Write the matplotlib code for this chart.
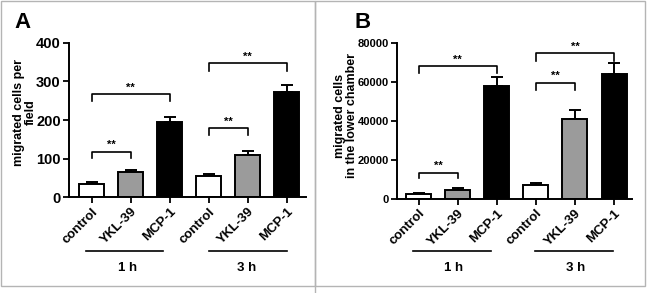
import matplotlib
matplotlib.use("Agg")
import matplotlib.pyplot as plt
import matplotlib.transforms as mtransforms
from matplotlib.patches import Rectangle
from matplotlib.lines import Line2D

plt.rcParams['font.family'] = ['Liberation Sans', 'DejaVu Sans']
plt.rcParams['font.weight'] = 'bold'

categories = ['control', 'YKL-39', 'MCP-1', 'control', 'YKL-39', 'MCP-1']
groups = ['1 h', '3 h']
bar_colors = ['white', '#9b9b9b', 'black', 'white', '#9b9b9b', 'black']

# panel A: migrated cells per field
a_values = [35, 65, 194, 55, 110, 272]
a_err = [4, 6, 15, 6, 10, 18]
a_pairs = [(0, 2), (0, 1), (3, 5), (3, 4)]
a_bracket_top = [267, 118, 347, 179]
a_bracket_end = [249, 102, 327, 161]

# panel B: migrated cells in the lower chamber
b_values = [2400, 4700, 58000, 7000, 41000, 64000]
b_err = [500, 800, 4400, 1200, 4500, 5400]
b_pairs = [(0, 2), (0, 1), (3, 5), (3, 4)]
b_bracket_top = [68100, 13500, 74600, 59500]
b_bracket_end = [64300, 10600, 70800, 55800]

W, H = 647, 293
fig = plt.figure(figsize=(W / 100, H / 100), dpi=100)


def panel(rect, values, err, pairs, btop, bend, ymax, yticks, ytick_size,
          ylabel, label_xy, letter, letter_xy, xlim, group_spans,
          group_centers):
    ax = fig.add_axes(rect)
    x = list(range(len(values)))
    ax.bar(x, values, width=0.64, color=bar_colors, edgecolor='black',
           linewidth=1.4, zorder=2)
    ax.errorbar(x, values, yerr=[[0] * len(err), err], fmt='none',
                ecolor='black', elinewidth=1.4, capsize=4, capthick=1.4,
                zorder=1)
    ax.set_xlim(*xlim)
    ax.set_ylim(0, ymax)
    ax.set_yticks(yticks)
    ax.set_xticks(x)
    ax.set_xticklabels(categories, rotation=45, ha='right',
                       rotation_mode='anchor', fontsize=9.5, fontweight='bold')
    for t in ax.get_yticklabels():
        t.set_fontsize(ytick_size)
        t.set_fontweight('bold')
    ax.tick_params(direction='out', length=4, width=1.3, pad=2)
    for s in ['top', 'right']:
        ax.spines[s].set_visible(False)
    for s in ['left', 'bottom']:
        ax.spines[s].set_linewidth(1.4)

    for (i, j), top, end in zip(pairs, btop, bend):
        ax.plot([i, i, j, j], [end, top, top, end], color='black',
                linewidth=1.2, clip_on=False)
        ax.annotate('**', xy=((i + j) / 2, top), xytext=(0, 2.5),
                    textcoords='offset points', ha='center', va='baseline',
                    fontsize=8, fontweight='bold')

    trans = mtransforms.blended_transform_factory(ax.transData, fig.transFigure)
    for (x0, x1), xc, g in zip(group_spans, group_centers, groups):
        fig.add_artist(Line2D([x0, x1], [1 - 251 / H, 1 - 251 / H],
                              transform=trans, color='black', linewidth=1.2))
        fig.text(xc, 1 - 268 / H, g, transform=trans, ha='center',
                 va='center', fontsize=9.5, fontweight='bold')

    fig.text(label_xy[0] / W, 1 - label_xy[1] / H, ylabel, rotation=90,
             ha='center', va='center', fontsize=9, fontweight='bold',
             linespacing=1.05)
    fig.text(letter_xy[0] / W, 1 - letter_xy[1] / H, letter, ha='left',
             va='center', fontsize=16, fontweight='bold')
    return ax


panel([69 / W, 1 - 197.3 / H, (306 - 69) / W, (197.3 - 42.7) / H],
      a_values, a_err, a_pairs, a_bracket_top, a_bracket_end,
      400, [0, 100, 200, 300, 400], 10.5, 'migrated cells per\nfield',
      (25, 112), 'A', (14, 23), (-0.58, 5.5),
      [(-0.15, 1.84), (3.01, 5.0)], [0.92, 3.98])

panel([397 / W, 1 - 199 / H, (632 - 397) / W, (199 - 42.7) / H],
      b_values, b_err, b_pairs, b_bracket_top, b_bracket_end,
      80000, [0, 20000, 40000, 60000, 80000], 8,
      'migrated cells\nin the lower chamber',
      (346, 116), 'B', (354, 23), (-0.55, 5.46),
      [(-0.13, 1.86), (2.99, 4.98)], [0.89, 4.03])

# gray panel frames
frame = '#b4b4b4'
fig.add_artist(Rectangle((1 / W, 1 - 286 / H), 314 / W, 285 / H,
                         transform=fig.transFigure, fill=False,
                         edgecolor=frame, linewidth=1))
fig.add_artist(Rectangle((315 / W, 1 - 286 / H), 330 / W, 285 / H,
                         transform=fig.transFigure, fill=False,
                         edgecolor=frame, linewidth=1))
fig.add_artist(Line2D([315 / W, 315 / W], [0, 1 - 286 / H],
                      transform=fig.transFigure, color=frame, linewidth=1))

fig.savefig('out.png', dpi=100)
